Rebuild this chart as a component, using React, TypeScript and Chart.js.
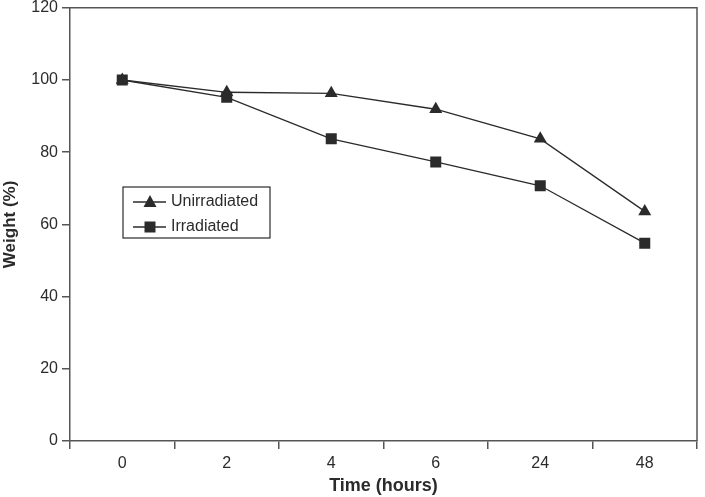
import React, { useEffect, useRef } from "react";
import { Chart, registerables } from "chart.js";

Chart.register(...registerables);

const categories = ["0", "2", "4", "6", "24", "48"];
const unirradiated = [100, 96.6, 96.3, 91.9, 83.7, 63.6];
const irradiated = [100, 95.2, 83.7, 77.3, 70.7, 54.8];
const seriesNames = ["Unirradiated", "Irradiated"];

const INK = "#2b2b2b";
const AXIS = "#555555";
const FONT = "'Liberation Sans', Arial, sans-serif";

function drawMarker(ctx: CanvasRenderingContext2D, kind: string, x: number, y: number) {
  ctx.save();
  ctx.fillStyle = INK;
  ctx.beginPath();
  if (kind === "triangle") {
    ctx.moveTo(x, y - 7);
    ctx.lineTo(x + 6.5, y + 5);
    ctx.lineTo(x - 6.5, y + 5);
    ctx.closePath();
  } else {
    ctx.rect(x - 5.5, y - 5.5, 11, 11);
  }
  ctx.fill();
  ctx.restore();
}

const framePlugin = {
  id: "framePlugin",
  afterDraw(chart: any) {
    const { ctx, chartArea } = chart;
    ctx.save();
    ctx.strokeStyle = AXIS;
    ctx.lineWidth = 1.5;
    ctx.beginPath();
    ctx.moveTo(chartArea.left, chartArea.top);
    ctx.lineTo(chartArea.right, chartArea.top);
    ctx.lineTo(chartArea.right, chartArea.bottom);
    ctx.stroke();

    // legend box
    const lx = 123, ly = 187, lw = 147, lh = 51;
    ctx.strokeStyle = INK;
    ctx.lineWidth = 1.2;
    ctx.strokeRect(lx, ly, lw, lh);
    const rows = [
      { name: seriesNames[0], kind: "triangle", y: 202 },
      { name: seriesNames[1], kind: "rect", y: 227 },
    ];
    ctx.font = `16px ${FONT}`;
    ctx.textBaseline = "middle";
    ctx.textAlign = "left";
    rows.forEach((r) => {
      ctx.strokeStyle = INK;
      ctx.lineWidth = 1.3;
      ctx.beginPath();
      ctx.moveTo(133, r.y);
      ctx.lineTo(166, r.y);
      ctx.stroke();
      drawMarker(ctx, r.kind, 150, r.y);
      ctx.fillStyle = INK;
      ctx.fillText(r.name, 171, r.y);
    });
    ctx.restore();
  },
};

export default function App() {
  const ref = useRef<HTMLCanvasElement | null>(null);
  useEffect(() => {
    document.body.style.margin = "0";
    if (!ref.current) return;
    const chart = new Chart(ref.current, {
      type: "line",
      data: {
        labels: categories,
        datasets: [
          {
            label: seriesNames[0],
            data: unirradiated,
            borderColor: INK,
            backgroundColor: INK,
            borderWidth: 1.3,
            pointStyle: "triangle",
            pointRadius: 7.5,
            pointBorderWidth: 0,
            tension: 0,
          },
          {
            label: seriesNames[1],
            data: irradiated,
            borderColor: INK,
            backgroundColor: INK,
            borderWidth: 1.3,
            pointStyle: "rect",
            pointRadius: 7.8,
            pointBorderWidth: 0,
            tension: 0,
          },
        ],
      },
      options: {
        responsive: false,
        animation: false,
        layout: { padding: { top: 5, right: 8, left: 0, bottom: 0 } },
        plugins: { legend: { display: false }, tooltip: { enabled: false } },
        scales: {
          x: {
            offset: true,
            grid: {
              offset: true,
              drawOnChartArea: false,
              drawTicks: true,
              tickLength: 8,
              tickColor: AXIS,
              lineWidth: 1.5,
            },
            border: { display: true, color: AXIS, width: 1.5 },
            ticks: { color: INK, font: { family: FONT, size: 16 }, padding: 5 },
            title: {
              display: true,
              text: "Time (hours)",
              color: INK,
              font: { family: FONT, size: 18, weight: "bold" },
              padding: { top: 1, bottom: 0 },
            },
            afterFit: (s: any) => {
              s.height = 56;
              s.paddingLeft = 0;
              s.paddingRight = 0;
            },
          },
          y: {
            min: 0,
            max: 120,
            ticks: { stepSize: 20, color: INK, font: { family: FONT, size: 16 }, padding: 4 },
            grid: {
              drawOnChartArea: false,
              drawTicks: true,
              tickLength: 8,
              tickColor: AXIS,
              lineWidth: 1.5,
            },
            border: { display: true, color: AXIS, width: 1.5 },
            title: {
              display: true,
              text: "Weight (%)",
              color: INK,
              font: { family: FONT, size: 17, weight: "bold" },
              padding: { top: 0, bottom: 4 },
            },
            afterFit: (s: any) => {
              s.width = 70;
              s.paddingTop = 0;
              s.paddingBottom = 0;
            },
          },
        },
      },
      plugins: [framePlugin],
    });
    return () => chart.destroy();
  }, []);
  return (
    <div style={{ width: 705, height: 497, background: "#fff" }}>
      <canvas ref={ref} width={705} height={497} />
    </div>
  );
}
